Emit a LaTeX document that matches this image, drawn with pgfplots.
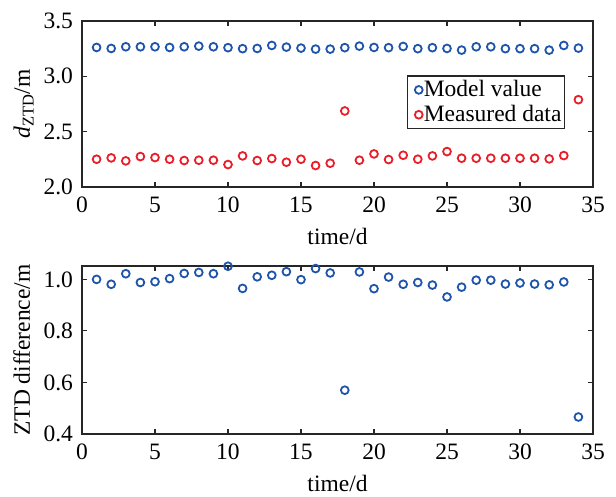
\documentclass[border=0pt]{standalone}
\usepackage{fontspec}
\setmainfont{Liberation Serif}
\usepackage{pgfplots}
\pgfplotsset{compat=1.18}
\definecolor{mblue}{RGB}{30,85,170}
\definecolor{mred}{RGB}{232,30,40}
\definecolor{axgray}{RGB}{38,38,38}

\pgfplotstableread{
x model measured diff
1 3.261 2.251 1.000
2 3.252 2.263 0.981
3 3.267 2.236 1.022
4 3.267 2.275 0.988
5 3.267 2.266 0.991
6 3.261 2.251 1.003
7 3.267 2.239 1.023
8 3.273 2.242 1.027
9 3.267 2.242 1.022
10 3.259 2.203 1.051
11 3.250 2.281 0.965
12 3.252 2.239 1.010
13 3.279 2.257 1.016
14 3.264 2.224 1.030
15 3.255 2.251 0.999
16 3.246 2.194 1.042
17 3.246 2.215 1.025
18 3.259 2.687 0.570
19 3.273 2.242 1.029
20 3.261 2.299 0.964
21 3.259 2.248 1.009
22 3.270 2.287 0.981
23 3.250 2.251 0.988
24 3.259 2.281 0.978
25 3.252 2.320 0.932
26 3.237 2.260 0.970
27 3.267 2.260 0.997
28 3.267 2.260 0.997
29 3.250 2.260 0.982
30 3.250 2.260 0.986
31 3.250 2.260 0.982
32 3.237 2.254 0.979
33 3.279 2.284 0.990
34 3.255 2.789 0.466
}\datatable

\begin{document}
\fontsize{23.5}{26}\selectfont
\begin{tikzpicture}
\useasboundingbox (0,0) rectangle (616pt,496pt);
\pgfplotsset{
  myaxis/.style={
    scale only axis, width=511pt, anchor=south west,
    xmin=0, xmax=35, xtick={0,5,...,35},
    tick align=inside, major tick length=5pt,
    axis line style={line width=1.1pt, axgray},
    every tick/.style={line width=1.1pt, axgray},
    font=\fontsize{23.5}{26}\selectfont,
    /pgf/number format/assume math mode=true,
    xticklabel={\pgfmathprintnumber{\tick}},
    yticklabel={\pgfmathprintnumber[fixed,precision=1,fixed zerofill]{\tick}},
    xticklabel style={yshift=-2pt},
    yticklabel style={xshift=-1pt},
    xlabel={time/d},
  },
  mk/.style={only marks, mark=o, mark size=3.9pt, line width=1.8pt},
}
\begin{axis}[myaxis, at={(82pt,309pt)}, height=166pt,
  ymin=2.0, ymax=3.5, ytick={2.0,2.5,3.0,3.5},
  xlabel style={at={(rel axis cs:0.5,-0.345)}, anchor=base},
  ylabel={\textit{d}\textsubscript{ZTD}/m},
  ylabel style={at={(rel axis cs:-0.102,0.5)}, anchor=base},
  legend style={at={(rel axis cs:0.9452,0.672)}, anchor=north east,
    draw=axgray, line width=1.1pt, fill=white, inner xsep=3pt, inner ysep=4pt,
    nodes={inner sep=0pt},
    font=\fontsize{23.5}{24.5}\selectfont, row sep=5pt,
    /tikz/every even column/.append style={column sep=4pt}},
  legend cell align=left,
  legend image code/.code={\path[draw=none,fill=none] (-8pt,-5pt) rectangle (5pt,5pt); \draw[#1] plot coordinates {(0pt,0pt)};},
]
\addplot[mk, mblue] table[x=x, y=model] {\datatable};
\addlegendentry{Model value}
\addplot[mk, mred] table[x=x, y=measured] {\datatable};
\addlegendentry{Measured data}
\end{axis}
\begin{axis}[myaxis, at={(82pt,62pt)}, height=168pt,
  ymin=0.4, ymax=1.052, ytick={0.4,0.6,0.8,1.0},
  xlabel style={at={(rel axis cs:0.5,-0.343)}, anchor=base},
  ylabel={ZTD difference/m},
  ylabel style={at={(rel axis cs:-0.102,0.5)}, anchor=base},
]
\addplot[mk, mblue] table[x=x, y=diff] {\datatable};
\end{axis}
\end{tikzpicture}
\end{document}
